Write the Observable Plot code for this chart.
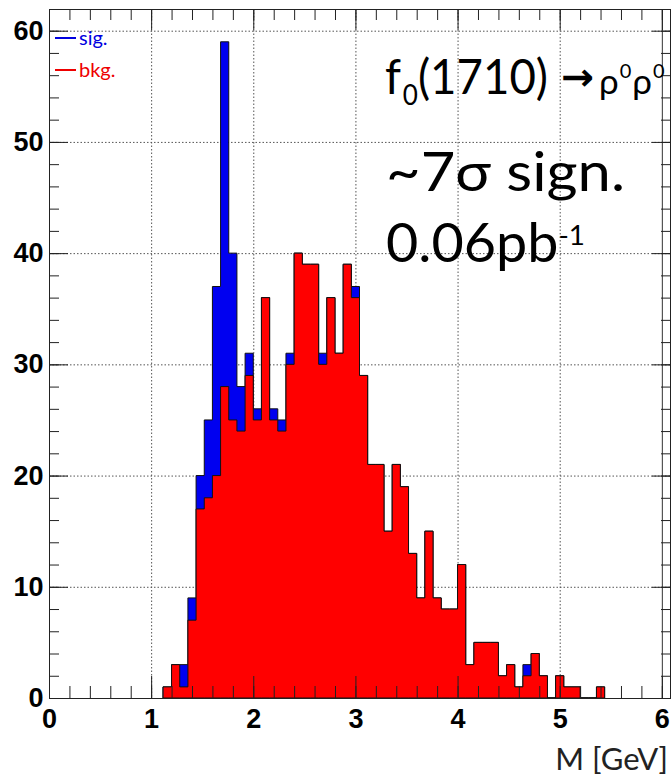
<!DOCTYPE html>
<html><head><meta charset="utf-8">
<script src="https://cdn.jsdelivr.net/npm/d3@7"></script>
<script src="https://cdn.jsdelivr.net/npm/@observablehq/plot@0.6"></script>
<style>body{margin:0;background:#fff} #chart{width:671px;height:777px}</style>
</head><body><div id="chart"></div>
<script>
// ---- data ----
const binWidth = 0.08; // GeV
const binLow = [1.12,1.20,1.28,1.36,1.44,1.52,1.60,1.68,1.76,1.84,1.92,2.00,2.08,2.16,2.24,2.32,2.40,2.48,2.56,2.64,2.72,2.80,2.88,2.96,3.04,3.12,3.20,3.28,3.36,3.44,3.52,3.60,3.68,3.76,3.84,3.92,4.00,4.08,4.16,4.24,4.32,4.40,4.48,4.56,4.64,4.72,4.80,4.88,4.96,5.04,5.12,5.20,5.28,5.36];
const bkg = [1,3,1,7,17,18,20,28,25,24,29,25,36,25,24,30,40,39,39,30,36,31,39,36,29,21,21,15,21,19,13,9,15,9,8,8,12,3,5,5,5,2,3,1,2,4,2,0,2,1,1,0,0,1];
const sig = [0,0,2,2,3,7,17,31,15,4,2,1,0,1,1,1,0,0,0,1,0,0,0,1,0,0,0,0,0,0,0,0,0,0,0,0,0,0,0,0,0,0,0,0,1,0,0,0,0,0,0,0,0,0];
const xTickLabels = [0,1,2,3,4,5,6];
const yTickLabels = [0,10,20,30,40,50,60];
const legendItems = ["sig.", "bkg."];

// ---- derived table ----
const rows = binLow.map((x, i) => ({x, bkg: bkg[i], total: bkg[i] + sig[i]}));
rows.push({x: binLow[binLow.length - 1] + binWidth, bkg: 0, total: 0});

const W = 671, H = 777, mL = 49, mR = 1, mT = 9, mB = 79;
const fw = W - mL - mR, fh = H - mT - mB;
const xMinor = d3.range(0, 6.001, 0.2);
const yMinor = d3.range(0, 62, 2);
const tickFont = "'Liberation Sans', Arial, sans-serif";

const plot = Plot.plot({
  width: W, height: H,
  marginLeft: mL, marginRight: mR, marginTop: mT, marginBottom: mB,
  x: {domain: [0, 6.08], axis: null},
  y: {domain: [0, 61.95], axis: null},
  marks: [
    Plot.gridX([1,2,3,4,5], {stroke: "#555", strokeOpacity: 1, strokeDasharray: "1.5,2"}),
    Plot.gridY([10,20,30,40,50,60], {stroke: "#555", strokeOpacity: 1, strokeDasharray: "1.5,2"}),
    Plot.areaY(rows, {x: "x", y: "total", curve: "step-after", fill: "#0000f0", stroke: "#111", strokeWidth: 1}),
    Plot.areaY(rows, {x: "x", y: "bkg", curve: "step-after", fill: "#ff0000", stroke: "#111", strokeWidth: 1}),
    Plot.ruleX([6], {stroke: "#333", strokeWidth: 1}),
    // ticks (inward)
    Plot.tickX(xMinor, {x: d => d, insetTop: fh - 12, stroke: "#222"}),
    Plot.tickX(xTickLabels, {x: d => d, insetTop: fh - 22, stroke: "#222"}),
    Plot.tickX(xMinor, {x: d => d, insetBottom: fh - 11, stroke: "#222"}),
    Plot.tickX(xTickLabels, {x: d => d, insetBottom: fh - 21, stroke: "#222"}),
    Plot.tickY(yMinor, {y: d => d, insetRight: fw - 10, stroke: "#222"}),
    Plot.tickY(yTickLabels, {y: d => d, insetRight: fw - 19, stroke: "#222"}),
    Plot.tickY(yMinor, {y: d => d, insetLeft: fw - 9, stroke: "#222"}),
    Plot.tickY(yTickLabels, {y: d => d, insetLeft: fw - 18, stroke: "#222"}),
    Plot.frame({stroke: "#222"}),
    // tick labels
    Plot.text(yTickLabels, {y: d => d, text: d => String(d), frameAnchor: "left", textAnchor: "end", dx: -6,
      fontSize: 27, fontWeight: "bold", fontFamily: tickFont, fill: "#000"}),
    Plot.text(xTickLabels, {x: d => d, text: d => String(d), frameAnchor: "bottom", lineAnchor: "middle", dy: 21,
      fontSize: 27, fontWeight: "bold", fontFamily: tickFont, fill: "#000"})
  ]
});
document.getElementById("chart").appendChild(plot);

// ---- annotations ----
const svg = d3.select(plot);
const sans = "Lato, 'Open Sans', 'DejaVu Sans', sans-serif";
const ann = svg.append("g").attr("font-family", sans).attr("fill", "#000").attr("text-anchor", "start");

// legend
const legColors = ["#0000e0", "#ee0000"];
legendItems.forEach((lab, i) => {
  const y = 38 + i * 32;
  ann.append("line").attr("x1", 55).attr("x2", 76).attr("y1", y).attr("y2", y)
    .attr("stroke", legColors[i]).attr("stroke-width", 2);
  ann.append("text").attr("x", 79).attr("y", y + 7).attr("font-size", 20).attr("fill", legColors[i]).text(lab);
});

const fit = "spacingAndGlyphs";
// title: f0(1710) -> rho0 rho0
const t1 = ann.append("text").attr("x", 385).attr("y", 94).attr("font-size", 49)
  .attr("textLength", 163).attr("lengthAdjust", fit);
t1.append("tspan").text("f");
t1.append("tspan").attr("dx", 2).attr("dy", 11).attr("font-size", 28).text("0");
t1.append("tspan").attr("dy", -11).text("(1710)");
ann.append("text").attr("x", 561).attr("y", 90).attr("font-size", 38).attr("font-weight", "bold")
  .attr("font-family", "'DejaVu Sans', sans-serif").attr("textLength", 33).attr("lengthAdjust", fit).text("\u2192");
const t3 = ann.append("text").attr("x", 599).attr("y", 94).attr("font-size", 35);
t3.append("tspan").text("\u03C1");
t3.append("tspan").attr("dx", 1).attr("dy", -16).attr("font-size", 20).text("0");
t3.append("tspan").attr("dx", 1).attr("dy", 16).text("\u03C1");
t3.append("tspan").attr("dx", 1).attr("dy", -16).attr("font-size", 20).text("0");

ann.append("text").attr("x", 386).attr("y", 191).attr("font-size", 55)
  .attr("textLength", 239).attr("lengthAdjust", fit).text("~7\u03C3 sign.");
const t5 = ann.append("text").attr("x", 386).attr("y", 262).attr("font-size", 54)
  .attr("textLength", 199).attr("lengthAdjust", fit);
t5.append("tspan").text("0.06pb");
t5.append("tspan").attr("dy", -17).attr("font-size", 27).text("-1");

ann.append("text").attr("x", 668).attr("y", 770).attr("font-size", 31).attr("text-anchor", "end")
  .attr("fill", "#222").text("M [GeV]");
</script>
</body></html>
